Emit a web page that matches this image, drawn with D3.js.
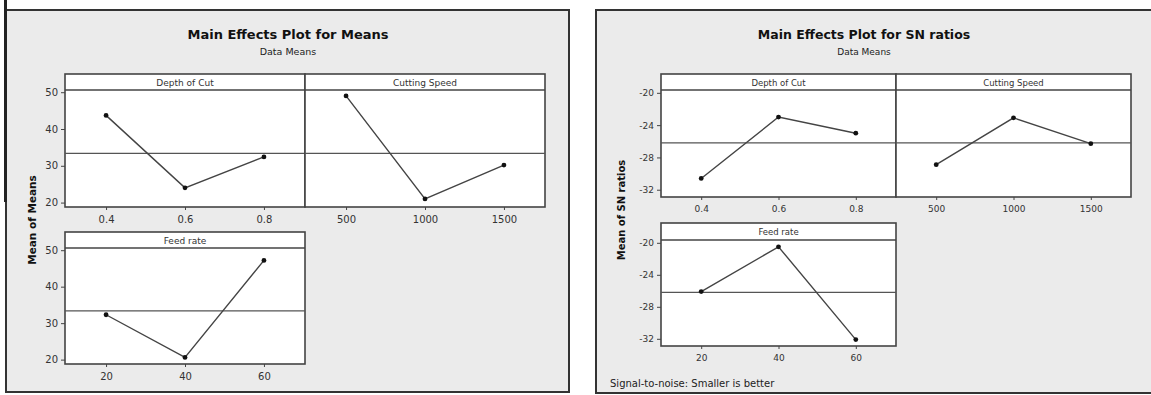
<!DOCTYPE html>
<html>
<head>
<meta charset="utf-8">
<script src="https://cdn.jsdelivr.net/npm/d3@7"></script>
<style>
  body { margin: 0; background: #fff; }
  svg text { font-family: "DejaVu Sans", sans-serif; }
</style>
</head>
<body>
<div id="chart"></div>
<script>
// factor names and levels
const factors = ["Depth of Cut", "Cutting Speed", "Feed rate"];
const depthLevels = ["0.4", "0.6", "0.8"];
const speedLevels = ["500", "1000", "1500"];
const feedLevels = ["20", "40", "60"];

// mean of means for each level
const meanDepth = [43.7, 24.0, 32.4];
const meanSpeed = [49.0, 21.0, 30.2];
const meanFeed = [32.3, 20.6, 47.2];

// mean of SN ratios for each level
const snDepth = [-30.6, -23.0, -25.0];
const snSpeed = [-28.9, -23.1, -26.3];
const snFeed = [-26.1, -20.5, -32.1];

const meanTicks = [20, 30, 40, 50];
const snTicks = [-32, -28, -24, -20];

const width = 1151;
const height = 395;

const svg = d3.select("#chart")
	.append("svg")
	.attr("width", width)
	.attr("height", height);

function drawPlot(opts) {
	const g = svg.append("g");

	// gray background frame
	g.append("rect")
		.attr("x", opts.frame[0])
		.attr("y", opts.frame[1])
		.attr("width", opts.frame[2])
		.attr("height", opts.frame[3])
		.attr("fill", "#ebebeb")
		.attr("stroke", "#333")
		.attr("stroke-width", 2);

	g.append("text")
		.attr("x", opts.titleX)
		.attr("y", 39)
		.attr("text-anchor", "middle")
		.attr("font-size", opts.titleSize)
		.attr("font-weight", "bold")
		.attr("fill", "#111")
		.text(opts.title);

	g.append("text")
		.attr("x", opts.titleX)
		.attr("y", 55)
		.attr("text-anchor", "middle")
		.attr("font-size", opts.subSize)
		.attr("fill", "#222")
		.text("Data Means");

	g.append("text")
		.attr("transform", `translate(${opts.yLabelX}, ${opts.yLabelY}) rotate(-90)`)
		.attr("text-anchor", "middle")
		.attr("font-size", opts.yLabelSize)
		.attr("font-weight", "bold")
		.attr("fill", "#111")
		.text(opts.yLabel);

	if (opts.note) {
		g.append("text")
			.attr("x", opts.note.x)
			.attr("y", opts.note.y)
			.attr("font-size", opts.note.size)
			.attr("fill", "#222")
			.text(opts.note.text);
	}

	// overall mean, same for every factor
	const overall = d3.mean(opts.panels[0].values);

	for (const p of opts.panels) {
		const top = p.stripH;
		const bottom = p.stripH + p.plotH;

		const x = d3.scalePoint()
			.domain(p.levels)
			.range([0, p.w])
			.padding(0.52);

		const y = d3.scaleLinear()
			.domain(opts.domain)
			.range([bottom, top]);

		const pg = g.append("g")
			.attr("transform", `translate(${p.x}, ${p.y})`);

		pg.append("rect")
			.attr("width", p.w)
			.attr("height", bottom)
			.attr("fill", "#fff")
			.attr("stroke", "#444")
			.attr("stroke-width", 1.6);

		pg.append("line")
			.attr("x1", 0).attr("x2", p.w)
			.attr("y1", top).attr("y2", top)
			.attr("stroke", "#444")
			.attr("stroke-width", 1.6);

		pg.append("text")
			.attr("x", p.w / 2)
			.attr("y", top / 2 + 3.5)
			.attr("text-anchor", "middle")
			.attr("font-size", opts.stripSize)
			.attr("fill", "#333")
			.text(p.name);

		// overall mean reference line
		pg.append("line")
			.attr("x1", 0).attr("x2", p.w)
			.attr("y1", y(overall)).attr("y2", y(overall))
			.attr("stroke", "#555")
			.attr("stroke-width", 1.4);

		const line = d3.line()
			.x((d, i) => x(p.levels[i]))
			.y((d) => y(d));

		pg.append("path")
			.datum(p.values)
			.attr("fill", "none")
			.attr("stroke", "#444")
			.attr("stroke-width", 1.4)
			.attr("d", line);

		pg.selectAll(".pt").data(p.values).enter()
			.append("circle")
			.attr("class", "pt")
			.attr("cx", (d, i) => x(p.levels[i]))
			.attr("cy", (d) => y(d))
			.attr("r", 2.4)
			.attr("fill", "#111");

		// x axis
		const xa = pg.append("g")
			.attr("transform", `translate(0, ${bottom})`)
			.call(d3.axisBottom(x).tickSize(3).tickPadding(opts.xPad));
		xa.select(".domain").remove();
		xa.selectAll("line").attr("stroke", "#444");
		xa.selectAll("text")
			.attr("font-size", opts.tickSize)
			.attr("font-family", null)
			.attr("fill", "#333");

		// y axis on the first column only
		if (p.yAxis) {
			const ya = pg.append("g")
				.call(d3.axisLeft(y)
					.tickValues(opts.ticks)
					.tickFormat((d) => String(d))
					.tickSize(4)
					.tickPadding(3));
			ya.select(".domain").remove();
			ya.selectAll("line").attr("stroke", "#444");
			ya.selectAll("text")
				.attr("font-size", opts.tickSize)
				.attr("font-family", null)
				.attr("fill", "#333");
		}
	}
}

// left chart: means
drawPlot({
	frame: [6, 10, 563, 382],
	title: "Main Effects Plot for Means",
	titleX: 288,
	titleSize: 13,
	subSize: 9.5,
	yLabel: "Mean of Means",
	yLabelX: 36,
	yLabelY: 220,
	yLabelSize: 10.5,
	stripSize: 9,
	tickSize: 10,
	xPad: 6,
	domain: [18.8, 50.6],
	ticks: meanTicks,
	panels: [
		{ name: factors[0], levels: depthLevels, values: meanDepth, x: 65, y: 74, w: 240, stripH: 16, plotH: 117, yAxis: true },
		{ name: factors[1], levels: speedLevels, values: meanSpeed, x: 305, y: 74, w: 240, stripH: 16, plotH: 117, yAxis: false },
		{ name: factors[2], levels: feedLevels, values: meanFeed, x: 65, y: 232, w: 240, stripH: 16, plotH: 116, yAxis: true },
	],
});

// extra dark edge on the left of the first chart
svg.append("line")
	.attr("x1", 5.5).attr("x2", 5.5)
	.attr("y1", 0).attr("y2", 202)
	.attr("stroke", "#222")
	.attr("stroke-width", 3);

// right chart: SN ratios
drawPlot({
	frame: [596, 10, 570, 383],
	title: "Main Effects Plot for SN ratios",
	titleX: 864,
	titleSize: 12.5,
	subSize: 9,
	yLabel: "Mean of SN ratios",
	yLabelX: 625,
	yLabelY: 210,
	yLabelSize: 10,
	stripSize: 8.5,
	tickSize: 9,
	xPad: 6,
	domain: [-32.9, -19.65],
	ticks: snTicks,
	note: { x: 610, y: 387, size: 10, text: "Signal-to-noise: Smaller is better" },
	panels: [
		{ name: factors[0], levels: depthLevels, values: snDepth, x: 661, y: 74, w: 235, stripH: 16, plotH: 107, yAxis: true },
		{ name: factors[1], levels: speedLevels, values: snSpeed, x: 896, y: 74, w: 235, stripH: 16, plotH: 107, yAxis: false },
		{ name: factors[2], levels: feedLevels, values: snFeed, x: 661, y: 223, w: 235, stripH: 17, plotH: 106, yAxis: true },
	],
});
</script>
</body>
</html>
